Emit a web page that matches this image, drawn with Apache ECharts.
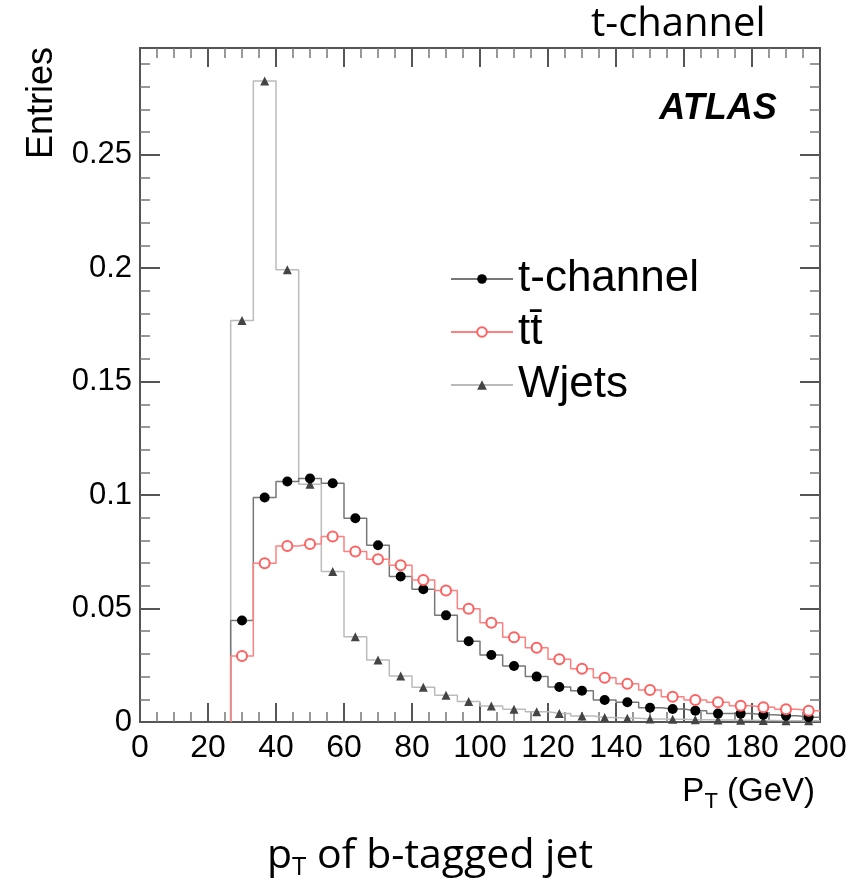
<!DOCTYPE html>
<html>
<head>
<meta charset="utf-8">
<script src="https://cdn.jsdelivr.net/npm/echarts@6/dist/echarts.min.js"></script>
<style>
  html, body { margin: 0; padding: 0; background: #fff; }
  #main { width: 863px; height: 883px; }
</style>
</head>
<body>
<div id="main"></div>
<script>
// bin edges in GeV (30 bins over 0-200, first 4 empty)
var binEdges = [26.67, 33.33, 40, 46.67, 53.33, 60, 66.67, 73.33, 80, 86.67, 93.33,
  100, 106.67, 113.33, 120, 126.67, 133.33, 140, 146.67, 153.33, 160, 166.67,
  173.33, 180, 186.67, 193.33, 200];

var tChannel = [0.0447, 0.0989, 0.1060, 0.1073, 0.1052, 0.0898, 0.0779, 0.0641, 0.0585,
  0.0470, 0.0356, 0.0295, 0.0247, 0.0200, 0.0154, 0.0138, 0.0097, 0.0087, 0.0063,
  0.0057, 0.0050, 0.0037, 0.0037, 0.0032, 0.0028, 0.0021];

var ttbar = [0.0291, 0.0700, 0.0776, 0.0784, 0.0817, 0.0751, 0.0717, 0.0691, 0.0626,
  0.0579, 0.0499, 0.0437, 0.0373, 0.0327, 0.0276, 0.0235, 0.0195, 0.0168, 0.0141,
  0.0111, 0.0097, 0.0087, 0.0072, 0.0065, 0.0056, 0.0050];

var wjets = [0.1769, 0.2825, 0.1993, 0.1048, 0.0663, 0.0376, 0.0273, 0.0203, 0.0153,
  0.0118, 0.0090, 0.0071, 0.0056, 0.0045, 0.0038, 0.0026, 0.0020, 0.0016, 0.0013,
  0.0012, 0.0010, 0.0009, 0.0008, 0.0007, 0.0006, 0.0005];

var xTicks = [0, 20, 40, 60, 80, 100, 120, 140, 160, 180, 200];
var yTicks = [0, 0.05, 0.1, 0.15, 0.2, 0.25];

// histogram outline with a marker at each bin centre
function stepData(vals) {
  var d = [{ value: [binEdges[0], 0], symbol: 'none' }];
  vals.forEach(function (v, i) {
    d.push({ value: [binEdges[i], v], symbol: 'none' });
    d.push({ value: [(binEdges[i] + binEdges[i + 1]) / 2, v] });
    d.push({ value: [binEdges[i + 1], v], symbol: 'none' });
  });
  return d;
}

var axisCol = '#555';
var font = 'Liberation Sans';

function xAx(pos, labels) {
  return {
    type: 'value', position: pos, min: 0, max: 200, interval: 20,
    axisLine: { show: true, onZero: false, lineStyle: { color: axisCol, width: 2 } },
    axisTick: { show: true, inside: true, length: 19, lineStyle: { color: axisCol, width: 2 } },
    minorTick: { show: true, splitNumber: 4, length: 10, lineStyle: { color: '#777', width: 1.5 } },
    splitLine: { show: false },
    axisLabel: {
      show: labels, margin: 10, color: '#000', fontFamily: font, fontSize: 32,
      formatter: function (v) { return xTicks.indexOf(v) >= 0 ? String(v) : ''; }
    }
  };
}
function yAx(pos, labels) {
  return {
    type: 'value', position: pos, min: 0, max: 0.297, interval: 0.05,
    axisLine: { show: true, onZero: false, lineStyle: { color: axisCol, width: 2 } },
    axisTick: { show: true, inside: true, length: 20, lineStyle: { color: axisCol, width: 2 } },
    minorTick: { show: true, splitNumber: 5, length: 10, lineStyle: { color: '#777', width: 1.5 } },
    splitLine: { show: false },
    axisLabel: {
      show: labels, margin: 8, color: '#000', fontFamily: font, fontSize: 31,
      formatter: function (v) {
        for (var k = 0; k < yTicks.length; k++) {
          if (Math.abs(yTicks[k] - v) < 1e-6) return String(yTicks[k]);
        }
        return '';
      }
    }
  };
}

var chart = echarts.init(document.getElementById('main'), null, { renderer: 'canvas' });

var option = {
  animation: false,
  backgroundColor: '#fff',
  grid: { left: 140, top: 48, right: 43, bottom: 161 },
  xAxis: [xAx('bottom', true), xAx('top', false)],
  yAxis: [yAx('left', true), yAx('right', false)],
  legend: {
    orient: 'vertical', left: 445, top: 249,
    itemWidth: 62, itemHeight: 12, itemGap: 3,
    data: ['t-channel', 'tt\u0304', 'Wjets'],
    textStyle: { fontFamily: font, fontSize: 44, color: '#000', lineHeight: 50 }
  },
  title: [
    { text: 't-channel', left: 586, top: 0, textStyle: { fontFamily: 'Open Sans', fontWeight: 'normal', fontSize: 40, color: '#000' } },
    {
      text: '{p|p}{s|T}{p| of b-tagged jet}', left: 262, top: 826,
      textStyle: { rich: {
        p: { fontFamily: 'Open Sans', fontWeight: 'normal', fontSize: 41, color: '#000' },
        s: { fontFamily: 'Open Sans', fontWeight: 'normal', fontSize: 26, color: '#000', padding: [24, 0, 0, 0] }
      } }
    },
    {
      text: '{p|P}{s|T}{p| (GeV)}', right: 43, top: 766,
      textStyle: { rich: {
        p: { fontFamily: font, fontWeight: 'normal', fontSize: 33, color: '#000' },
        s: { fontFamily: font, fontWeight: 'normal', fontSize: 22, color: '#000', padding: [20, 0, 0, 0] }
      } }
    }
  ],
  graphic: [
    {
      type: 'text', x: 42, y: 103, rotation: Math.PI / 2,
      style: { text: 'Entries', fontFamily: font, fontSize: 36, fill: '#000', align: 'center', verticalAlign: 'middle' }
    },
    {
      type: 'text', x: 718, y: 109,
      style: { text: 'ATLAS', fontFamily: font, fontSize: 36, fontWeight: 'bold', fontStyle: 'italic', fill: '#000', align: 'center', verticalAlign: 'middle' }
    }
  ],
  series: [
    {
      name: 'Wjets', type: 'line', data: stepData(wjets), showAllSymbol: true,
      symbol: 'triangle', symbolSize: 9, itemStyle: { color: '#444' },
      lineStyle: { color: '#bbb', width: 1.5 }, z: 2
    },
    {
      name: 't-channel', type: 'line', data: stepData(tChannel), showAllSymbol: true,
      symbol: 'circle', symbolSize: 10, itemStyle: { color: '#000' },
      lineStyle: { color: '#777', width: 1.5 }, z: 3
    },
    {
      name: 'tt\u0304', type: 'line', data: stepData(ttbar), showAllSymbol: true,
      symbol: 'emptyCircle', symbolSize: 10, itemStyle: { color: '#ff6060', borderWidth: 1 },
      lineStyle: { color: '#ff8080', width: 1.5 }, z: 4
    }
  ]
};

chart.setOption(option);
</script>
</body>
</html>
